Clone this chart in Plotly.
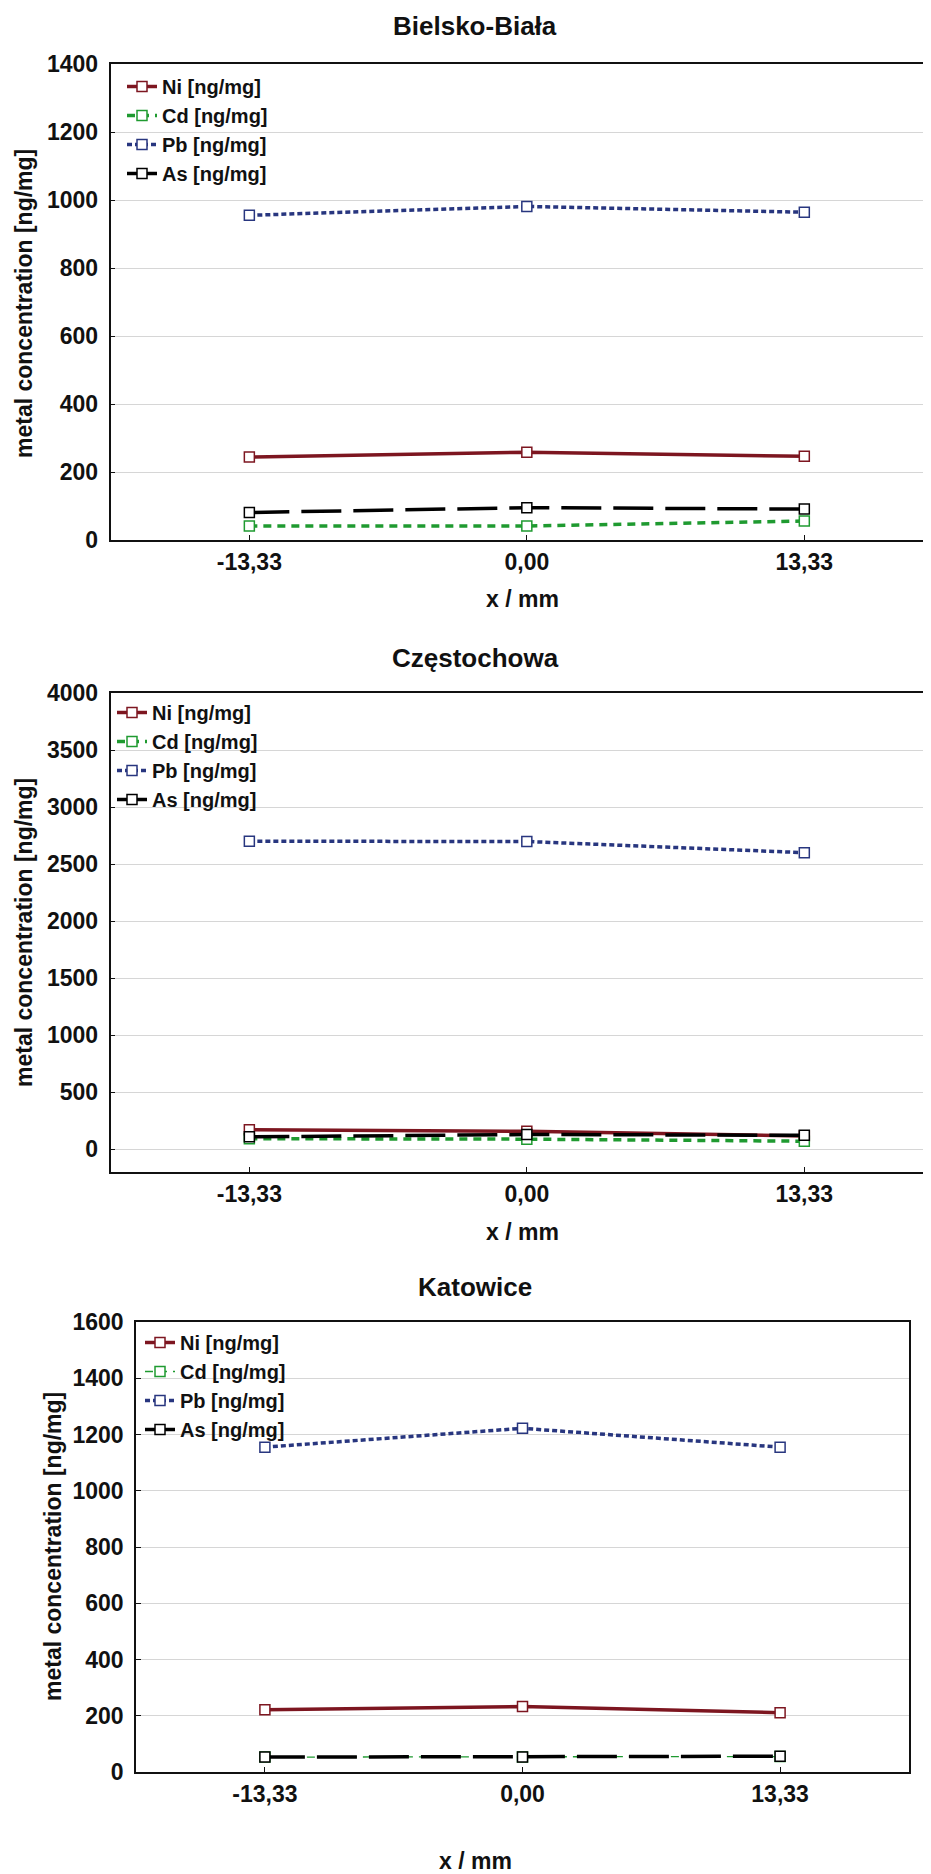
import plotly.graph_objects as go

W, H = 931, 1874
OFF = 8  # default page margin of the browser body

# ---------------- data ----------------
x_mm = [-13.33, 0.0, 13.33]
x_ticktext = ["-13,33", "0,00", "13,33"]

cities = ["Bielsko-Biała", "Częstochowa", "Katowice"]
series_names = ["Ni [ng/mg]", "Cd [ng/mg]", "Pb [ng/mg]", "As [ng/mg]"]

ni_bb = [244, 258, 246]
cd_bb = [41, 41, 56]
pb_bb = [955, 981, 964]
as_bb = [81, 95, 91]

ni_cz = [170, 157, 116]
cd_cz = [92, 88, 70]
pb_cz = [2700, 2698, 2600]
as_cz = [108, 129, 122]

ni_ka = [221, 233, 211]
cd_ka = [53, 53, 55]
pb_ka = [1155, 1222, 1155]
as_ka = [53, 53, 56]

y_ticks_bb = [0, 200, 400, 600, 800, 1000, 1200, 1400]
y_ticks_cz = [0, 500, 1000, 1500, 2000, 2500, 3000, 3500, 4000]
y_ticks_ka = [0, 200, 400, 600, 800, 1000, 1200, 1400, 1600]

y_title = "metal concentration [ng/mg]"
x_title = "x / mm"

# ---------------- styles ----------------
FONT = "Liberation Sans, Arial, sans-serif"
colors = ["#7d1620", "#1f9a30", "#28367f", "#000000"]
dashes = ["solid", "8px,6px", "5px,3px", "40px,12px"]
widths = [3.5, 3.5, 3.5, 3.5]


def px_x(p):
    return (p - OFF) / W


def px_y(p):
    return 1 - (p - OFF) / H


panels = [
    dict(data=[ni_bb, cd_bb, pb_bb, as_bb], yt=y_ticks_bb, yr=[0, 1400],
         xd=[110.5, 939], yd=[540, 64], xr=[-20, 19.8], right=False,
         leg=(122, 67), title=(475, 26), xl=(522, 599), yl=(24, 304), cdw=3.5),
    dict(data=[ni_cz, cd_cz, pb_cz, as_cz], yt=y_ticks_cz, yr=[-200, 4000],
         xd=[110.5, 939], yd=[1172, 693], xr=[-20, 19.8], right=False,
         leg=(112, 693), title=(475, 658), xl=(522, 1232), yl=(24, 933), cdw=3.5),
    dict(data=[ni_ka, cd_ka, pb_ka, as_ka], yt=y_ticks_ka, yr=[0, 1600],
         xd=[136, 909], yd=[1772, 1322], xr=[-20, 20], right=True,
         leg=(140, 1323), title=(475, 1287), xl=(475, 1861), yl=(53, 1547), cdw=1.3),
]

fig = go.Figure()
annotations = []
layout = {}

for i, p in enumerate(panels):
    n = i + 1
    xa = "x" if n == 1 else f"x{n}"
    ya = "y" if n == 1 else f"y{n}"
    leg = "legend" if n == 1 else f"legend{n}"
    for k, (name, vals) in enumerate(zip(series_names, p["data"])):
        w = widths[k] if k != 1 else p["cdw"]
        fig.add_trace(go.Scatter(
            x=x_mm, y=vals, name=name, mode="lines+markers",
            xaxis=xa, yaxis=ya, legend=leg,
            line=dict(color=colors[k], width=w, dash=dashes[k]),
            marker=dict(symbol="square", size=10, color="white",
                        line=dict(color=colors[k], width=1.5)),
        ))
    xkey = "xaxis" if n == 1 else f"xaxis{n}"
    ykey = "yaxis" if n == 1 else f"yaxis{n}"
    layout[xkey] = dict(
        domain=[px_x(p["xd"][0]), px_x(p["xd"][1])], range=p["xr"], anchor=ya,
        tickvals=x_mm, ticktext=x_ticktext, showgrid=False, zeroline=False,
        showline=True, linecolor="#111", linewidth=1.5, mirror=True,
        ticks="inside", ticklen=5, tickcolor="#111", automargin=False,
        tickfont=dict(family=FONT, size=23, color="#111", weight="bold"),
        ticklabelstandoff=1,
    )
    layout[ykey] = dict(
        domain=[px_y(p["yd"][0]), px_y(p["yd"][1])], range=p["yr"], anchor=xa,
        tickvals=p["yt"], showgrid=True, gridcolor="#d6d6d6", gridwidth=1,
        zeroline=False, showline=True, linecolor="#111", linewidth=1.5,
        mirror=p["right"], ticks="inside", ticklen=5, tickcolor="#111", automargin=False,
        tickfont=dict(family=FONT, size=23, color="#111", weight="bold"),
        ticklabelstandoff=6,
    )
    layout[leg] = dict(
        x=px_x(p["leg"][0]), y=px_y(p["leg"][1]), xanchor="left", yanchor="top",
        bgcolor="rgba(0,0,0,0)", borderwidth=0, itemwidth=30, tracegroupgap=0,
        font=dict(family=FONT, size=20, color="#111", weight="bold"),
    )
    annotations.append(dict(
        text=cities[i], x=px_x(p["title"][0]), y=px_y(p["title"][1]),
        xref="paper", yref="paper", showarrow=False, xanchor="center", yanchor="middle",
        font=dict(family=FONT, size=26, color="#111", weight="bold")))
    annotations.append(dict(
        text=x_title, x=px_x(p["xl"][0]), y=px_y(p["xl"][1]),
        xref="paper", yref="paper", showarrow=False, xanchor="center", yanchor="middle",
        font=dict(family=FONT, size=23, color="#111", weight="bold")))
    annotations.append(dict(
        text=y_title, x=px_x(p["yl"][0]), y=px_y(p["yl"][1]), textangle=-90,
        xref="paper", yref="paper", showarrow=False, xanchor="center", yanchor="middle",
        font=dict(family=FONT, size=23, color="#111", weight="bold")))

fig.update_layout(
    width=W, height=H, margin=dict(l=0, r=0, t=0, b=0, pad=0, autoexpand=False),
    paper_bgcolor="white", plot_bgcolor="white",
    showlegend=True, annotations=annotations, **layout,
)

fig.write_html("out.html")
